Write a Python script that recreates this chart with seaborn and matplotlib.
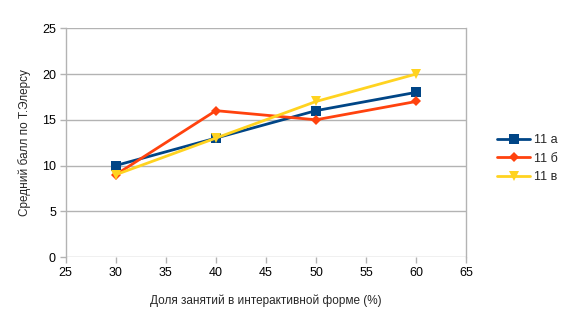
import matplotlib
matplotlib.use("Agg")
import matplotlib.pyplot as plt
import seaborn as sns
import pandas as pd

share = [30, 40, 50, 60]
score_a = [10, 13, 16, 18]
score_b = [9, 16, 15, 17]
score_v = [9, 13, 17, 20]
groups = ["11 а", "11 б", "11 в"]
colors = ["#004586", "#ff420e", "#ffd320"]
markers = ["s", "D", "v"]
sizes = [7, 5, 7.5]

sns.set_theme(style="white")
plt.rcParams["font.family"] = ["Liberation Sans", "DejaVu Sans"]

df = pd.DataFrame({
    "share": share * 3,
    "score": score_a + score_b + score_v,
    "group": [g for g in groups for _ in share],
})

fig = plt.figure(figsize=(5.61, 3.25), dpi=100)
ax = fig.add_axes([0.117, 0.209, 0.714, 0.704])

for g, c, m, s in zip(groups, colors, markers, sizes):
    sub = df[df["group"] == g]
    sns.lineplot(data=sub, x="share", y="score", ax=ax, color=c, marker=m,
                 markersize=s, markeredgewidth=0, linewidth=2.0, label=g)

ax.set_xlim(25, 65)
ax.set_ylim(0, 25)
ax.set_xticks(range(25, 66, 5))
ax.set_yticks(range(0, 26, 5))
ax.yaxis.grid(True, color="#b3b3b3", linewidth=1)
ax.xaxis.grid(False)
for side in ["top", "bottom"]:
    ax.spines[side].set_visible(False)
for side in ["left", "right"]:
    ax.spines[side].set_visible(True)
    ax.spines[side].set_color("#b3b3b3")
    ax.spines[side].set_linewidth(1)
ax.tick_params(axis="both", which="major", length=4, width=1, color="#b3b3b3",
               labelsize=9, labelcolor="black", pad=3)
ax.tick_params(axis="x", bottom=True)
ax.tick_params(axis="y", left=True)

ax.set_xlabel("Доля занятий в интерактивной форме (%)", fontsize=8.5, labelpad=11)
ax.set_ylabel("Средний балл по Т.Элерсу", fontsize=8.5, labelpad=8)

ax.legend(loc="center left", bbox_to_anchor=(1.05, 0.43), frameon=False,
          fontsize=9, handlelength=2.6, handletextpad=0.3, labelspacing=0.5)

fig.savefig("out.png", dpi=100)
